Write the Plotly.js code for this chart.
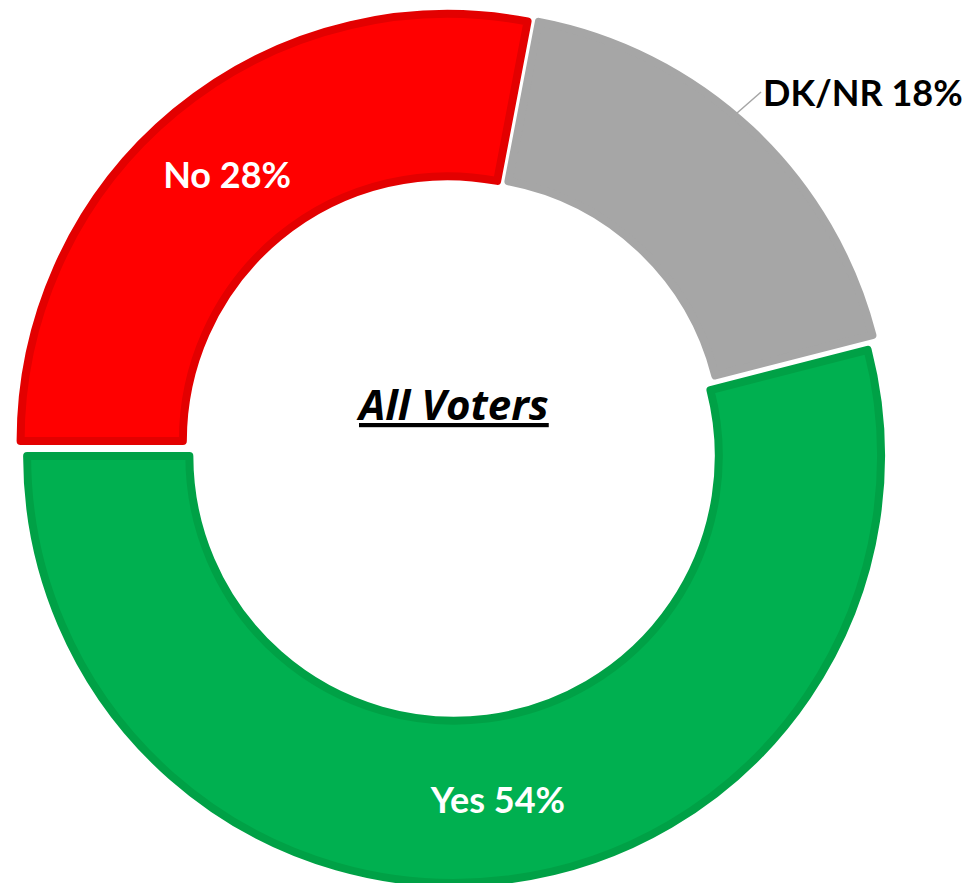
<!DOCTYPE html>
<html>
<head>
<meta charset="utf-8">
<script src="https://cdn.plot.ly/plotly-3.0.1.min.js"></script>
<style>
  html, body { margin: 0; padding: 0; background: #ffffff; overflow: hidden; }
  #chart { width: 974px; height: 883px; }
</style>
</head>
<body>
<div id="chart"></div>
<script>
const labels = ["Yes", "No", "DK/NR"];
const values = [54, 28, 18];
const sliceColors = ["#00b050", "#ff0000", "#a6a6a6"];
const edgeColors = ["#00a146", "#e30000", "#a6a6a6"];
// DK/NR gets its label outside with a leader line (annotation below)
const labelPositions = ["inside", "inside", "none"];
const centerTitle = "All Voters";

const chartEl = document.getElementById("chart");

const labelFont = { family: "Lato, sans-serif", size: 36, weight: "bold" };

function draw() {
  Plotly.newPlot(
    chartEl,
    [
      {
        type: "pie",
        labels: labels,
        values: values,
        sort: false,
        direction: "clockwise",
        rotation: 75.6,
        hole: 0.62,
        pull: 0.02,
        marker: {
          colors: sliceColors,
          line: { color: edgeColors, width: 8 },
        },
        texttemplate: "<b>%{label} %{value}%</b>",
        textposition: labelPositions,
        insidetextorientation: "horizontal",
        insidetextfont: { ...labelFont, color: "#ffffff" },
        domain: { x: [0.01478, 0.9154], y: [0, 0.98641] },
        hoverinfo: "none",
      },
    ],
    {
      width: 974,
      height: 883,
      margin: { l: 0, r: 0, t: 0, b: 0 },
      paper_bgcolor: "#ffffff",
      showlegend: false,
      annotations: [
        {
          text: "<b><i><u>" + centerTitle + "</u></i></b>",
          xref: "paper",
          yref: "paper",
          x: 0.4641,
          y: 0.5436,
          xanchor: "center",
          yanchor: "middle",
          showarrow: false,
          font: { family: "Open Sans, sans-serif", size: 42, color: "#000000" },
        },
        {
          text: "<b>" + labels[2] + " " + values[2] + "%</b>",
          xref: "paper",
          yref: "paper",
          x: 0.7567,
          y: 0.872,
          ax: 24,
          ay: -21,
          xanchor: "left",
          yanchor: "middle",
          showarrow: true,
          arrowhead: 0,
          arrowwidth: 1.5,
          arrowcolor: "#a6a6a6",
          font: { ...labelFont, color: "#000000" },
        },
      ],
    },
    { displayModeBar: false, staticPlot: true }
  );
}

window.addEventListener("load", draw);
</script>
</body>
</html>
